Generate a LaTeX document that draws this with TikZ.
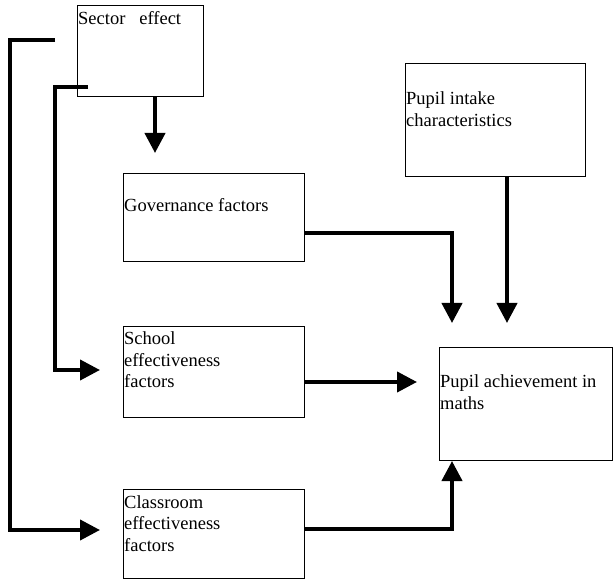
\documentclass[tikz,border=0pt]{standalone}
\usepackage{fontspec}
\setmainfont{Liberation Serif}
\usetikzlibrary{arrows.meta}
\begin{document}
\begin{tikzpicture}[x=1pt,y=-1pt,
  box/.style={draw, line width=0.9pt, inner sep=0pt, anchor=north west},
  txt/.style={anchor=base west, inner sep=0pt, align=left, font=\fontsize{18.5}{21.5}\selectfont},
  arr/.style={line width=4pt, line join=miter, -{Triangle[width=20pt,length=20pt]}}]
\useasboundingbox (0,0) rectangle (614,580);
% boxes
\node[box, minimum width=126pt, minimum height=91pt] (sector) at (77,5) {};
\node[box, minimum width=180pt, minimum height=113pt] (intake) at (405,63) {};
\node[box, minimum width=181pt, minimum height=88pt] (gov) at (123,173) {};
\node[box, minimum width=181pt, minimum height=91pt] (school) at (123,326) {};
\node[box, minimum width=181pt, minimum height=89pt] (class) at (123,489) {};
\node[box, minimum width=173pt, minimum height=113pt] (ach) at (439,347) {};
% texts (base anchor = baseline of the last line)
\node[txt] (sectorT) at ([shift={(1,20)}]sector.north west) {Sector\ \ \ effect};
\node[txt] (intakeT) at ([shift={(1,63.5)}]intake.north west) {Pupil intake\\characteristics};
\node[txt] (govT) at ([shift={(1,39)}]gov.north west) {Governance factors};
\node[txt] (schoolT) at ([shift={(1,62)}]school.north west) {School\\effectiveness\\factors};
\node[txt] (classT) at ([shift={(1,62)}]class.north west) {Classroom\\effectiveness\\factors};
\node[txt] (achT) at ([shift={(1,62.5)}]ach.north west) {Pupil achievement in\\maths};
% free ends
\coordinate (t1) at (155,153);
\coordinate (o1) at (55,40);
\coordinate (i1) at (88,87);
\coordinate (tc) at (100,530);
\coordinate (ts) at (100,370);
\coordinate (tg) at (452,323);
\coordinate (ti) at (507,323);
\coordinate (tsa) at (417,382);
\coordinate (tca) at (452,461);
% connectors
\draw[arr] (t1 |- sector.south) -- (t1);
\draw[arr] (o1) -- (10,40) |- (tc);
\draw[arr] (i1) -- (55,87) |- (ts);
\draw[arr] (gov.east |- 0,233) -| (tg);
\draw[arr] (ti |- intake.south) -- (ti);
\draw[arr] (school.east |- tsa) -- (tsa);
\draw[arr] (class.east |- 0,529) -| (tca);
\end{tikzpicture}
\end{document}
